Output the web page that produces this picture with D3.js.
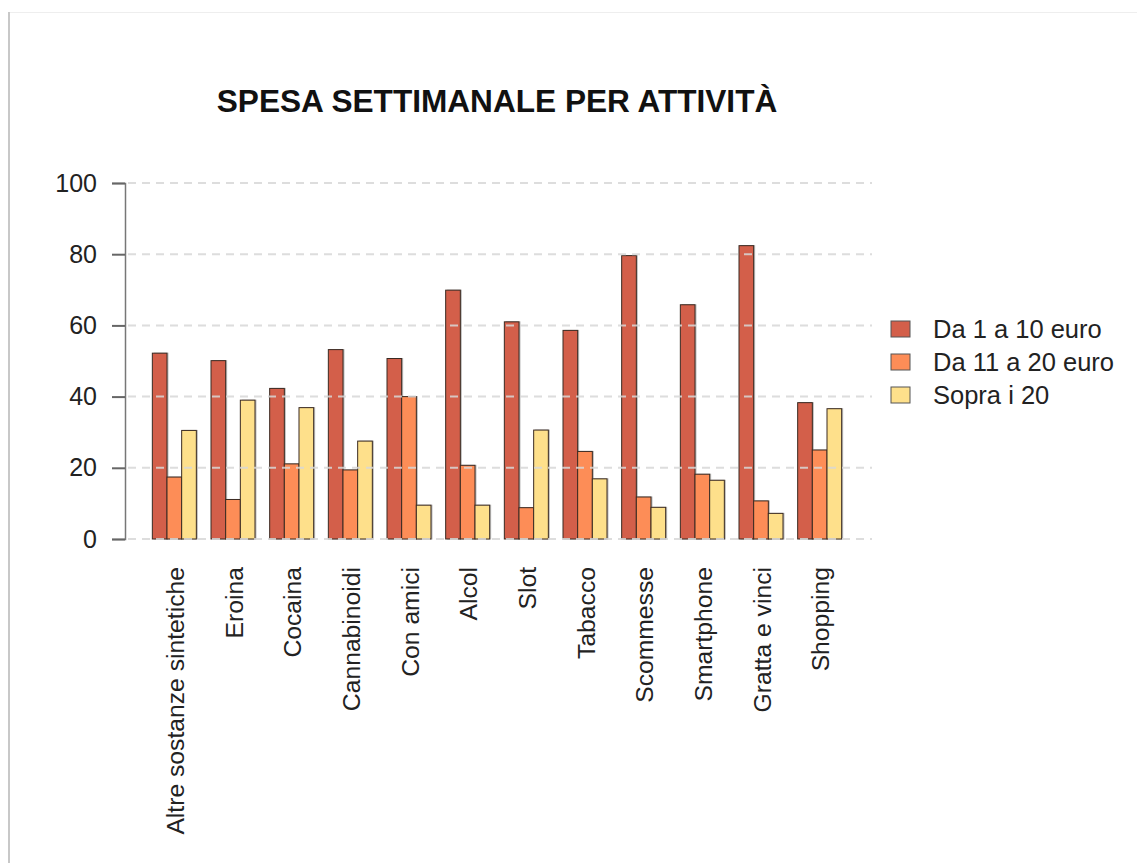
<!DOCTYPE html>
<html>
<head>
<meta charset="utf-8">
<script src="https://cdn.jsdelivr.net/npm/d3@7"></script>
<style>
  body { margin: 0; background: #fff; }
  text { font-family: "Liberation Sans", Arial, sans-serif; }
</style>
</head>
<body>
<svg id="chart"></svg>
<script>
// data
const categories = ["Altre sostanze sintetiche", "Eroina", "Cocaina", "Cannabinoidi", "Con amici",
    "Alcol", "Slot", "Tabacco", "Scommesse", "Smartphone", "Gratta e vinci", "Shopping"];
const seriesNames = ["Da 1 a 10 euro", "Da 11 a 20 euro", "Sopra i 20"];
const da1a10 = [52.2, 50.1, 42.3, 53.2, 50.7, 69.9, 61.0, 58.6, 79.6, 65.8, 82.4, 38.3];
const da11a20 = [17.4, 11.1, 21.1, 19.4, 40.0, 20.7, 8.8, 24.6, 11.8, 18.2, 10.7, 25.0];
const sopra20 = [30.5, 39.0, 36.9, 27.5, 9.5, 9.5, 30.6, 16.9, 8.9, 16.5, 7.2, 36.6];
const yTicks = [0, 20, 40, 60, 80, 100];
const colors = ["#d35f4a", "#fd8d57", "#fee08b"];

const W = 1137, H = 863;
const svg = d3.select('#chart').attr('width', W).attr('height', H);

// frame lines of the original screenshot
svg.append('line').attr('x1', 9).attr('x2', W).attr('y1', 12.5).attr('y2', 12.5)
    .attr('stroke', '#eeeeee').attr('stroke-width', 1);
svg.append('line').attr('x1', 9).attr('x2', 9).attr('y1', 12).attr('y2', H)
    .attr('stroke', '#c8c8c8').attr('stroke-width', 2);

const data = categories.map(function (c, i) {
    return {name: c, values: [da1a10[i], da11a20[i], sopra20[i]]};
});

const x0 = d3.scaleBand()
    .domain(categories)
    .range([145, 849])
    .paddingInner(0.25)
    .paddingOuter(0.125);
const x1 = d3.scaleBand()
    .domain(d3.range(seriesNames.length))
    .range([0, x0.bandwidth()]);
const y = d3.scaleLinear()
    .domain([0, 100])
    .range([539, 183]);

// title
svg.append('text')
    .attr('x', 497).attr('y', 112)
    .attr('text-anchor', 'middle')
    .style('font-size', '31.6px').style('font-weight', 'bold')
    .attr('fill', '#111')
    .text('SPESA SETTIMANALE PER ATTIVITÀ');

// bars
const groups = svg.selectAll('g.grp')
    .data(data)
    .enter()
    .append('g')
    .attr('class', 'grp')
    .attr('transform', function (d) { return 'translate(' + x0(d.name) + ',0)'; });

// soft shadow
groups.selectAll('rect.sh')
    .data(function (d) { return d.values; })
    .enter()
    .append('rect')
    .attr('class', 'sh')
    .attr('x', function (d, i) { return x1(i) + 1.5; })
    .attr('y', function (d) { return y(d) - 0.5; })
    .attr('width', x1.bandwidth())
    .attr('height', function (d) { return y(0) - y(d) + 1; })
    .attr('fill', '#bbbbbb');

groups.selectAll('rect.bar')
    .data(function (d) { return d.values; })
    .enter()
    .append('rect')
    .attr('class', 'bar')
    .attr('x', function (d, i) { return x1(i); })
    .attr('y', function (d) { return y(d); })
    .attr('width', x1.bandwidth())
    .attr('height', function (d) { return y(0) - y(d); })
    .attr('fill', function (d, i) { return colors[i]; })
    .attr('stroke', '#3a2a22')
    .attr('stroke-width', 1);

// dashed grid, drawn over the bars
svg.append('g')
    .selectAll('line')
    .data(yTicks)
    .enter()
    .append('line')
    .attr('x1', 128).attr('x2', 872)
    .attr('y1', function (d) { return y(d); })
    .attr('y2', function (d) { return y(d); })
    .attr('stroke', '#d8d8d8')
    .attr('stroke-width', 2)
    .attr('stroke-dasharray', '8,6')
    .attr('opacity', 0.85);

// y axis
const yAxis = svg.append('g')
    .attr('transform', 'translate(125,0)')
    .call(d3.axisLeft(y).tickValues(yTicks).tickSize(13).tickPadding(15));
yAxis.select('.domain').attr('stroke', '#777').attr('stroke-width', 1.5);
yAxis.selectAll('.tick line').attr('stroke', '#666').attr('stroke-width', 2);
yAxis.selectAll('.tick text')
    .style('font-size', '25px')
    .style('font-family', '"Liberation Sans", Arial, sans-serif')
    .attr('fill', '#222');

// category labels, vertical
svg.append('g')
    .selectAll('text')
    .data(categories)
    .enter()
    .append('text')
    .attr('transform', function (d) {
        return 'translate(' + (x0(d) + x0.bandwidth() / 2 + 1) + ',567)rotate(-90)';
    })
    .attr('text-anchor', 'end')
    .attr('dy', '0.35em')
    .style('font-size', '24.7px')
    .attr('fill', '#222')
    .text(function (d) { return d; });

// legend
const legend = svg.append('g')
    .selectAll('g')
    .data(seriesNames)
    .enter()
    .append('g')
    .attr('transform', function (d, i) { return 'translate(891,' + (321 + i * 33) + ')'; });
legend.append('rect')
    .attr('width', 19).attr('height', 16)
    .attr('fill', function (d, i) { return colors[i]; })
    .attr('stroke', '#555').attr('stroke-width', 1);
legend.append('text')
    .attr('x', 42).attr('y', 8)
    .attr('dy', '0.36em')
    .style('font-size', '25.5px')
    .attr('fill', '#222')
    .text(function (d) { return d; });
</script>
</body>
</html>
